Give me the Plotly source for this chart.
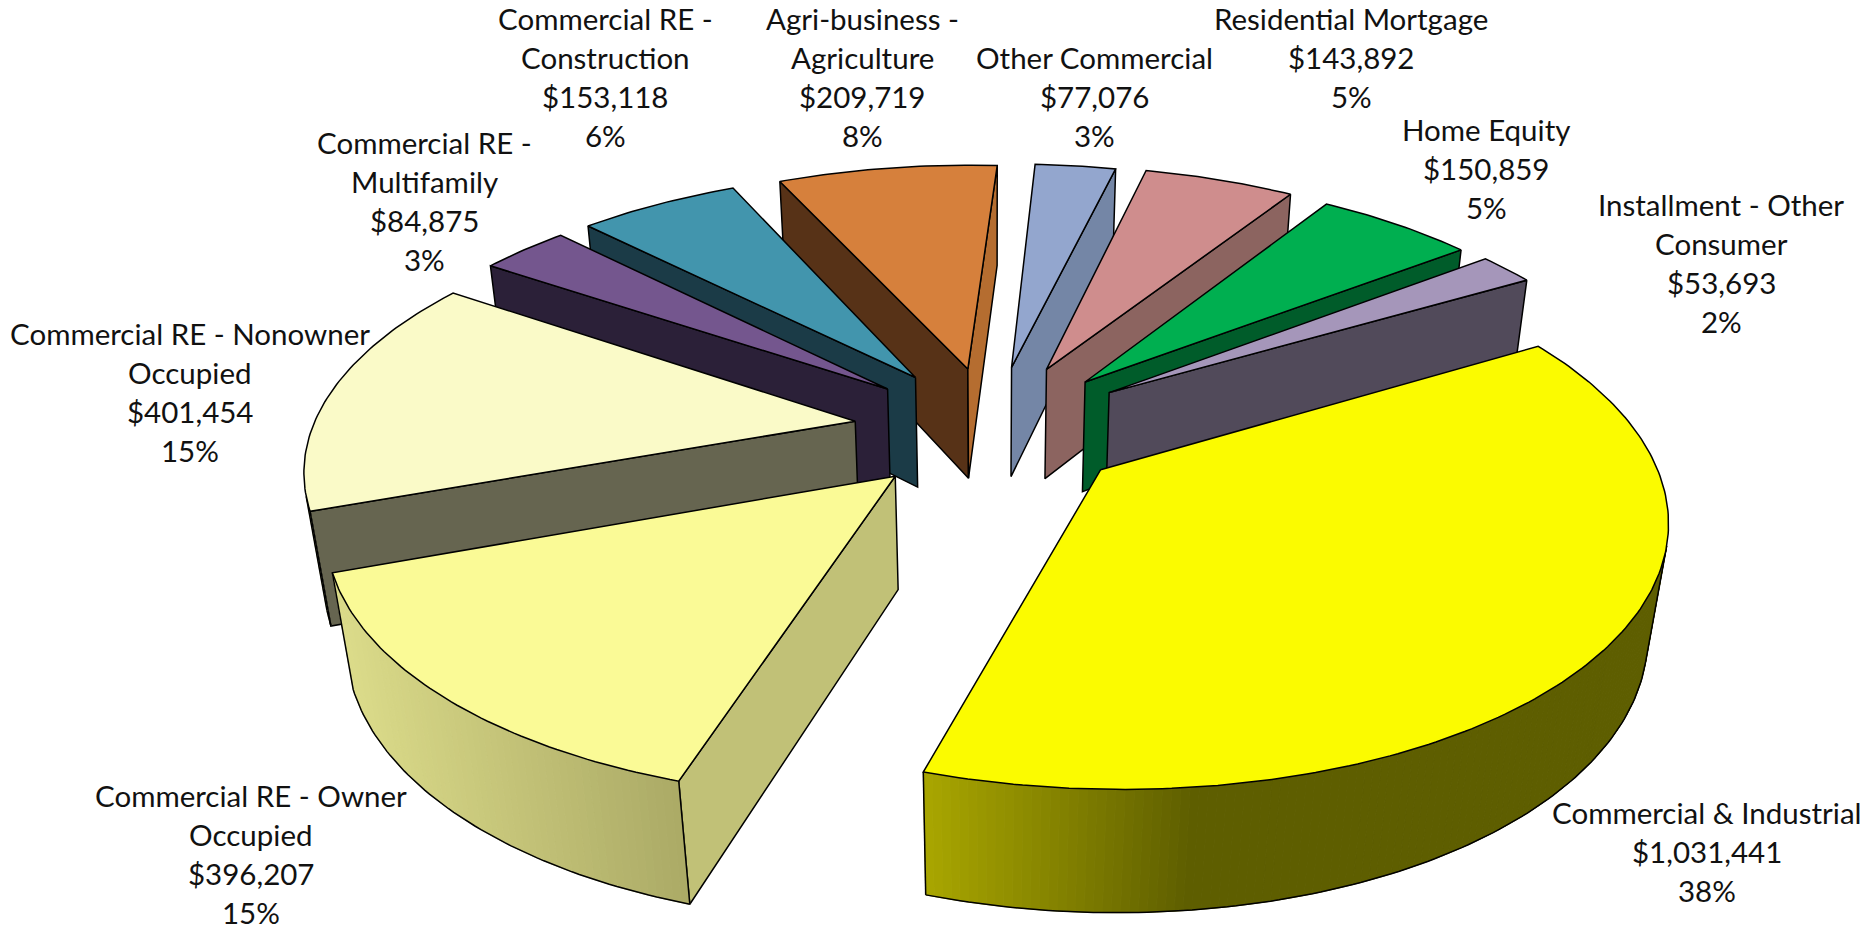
import math
import plotly.graph_objects as go

categories = ["Commercial & Industrial", "Commercial RE - Owner Occupied", "Commercial RE - Nonowner Occupied",
              "Commercial RE - Multifamily", "Commercial RE - Construction", "Agri-business - Agriculture",
              "Other Commercial", "Residential Mortgage", "Home Equity", "Installment - Other Consumer"]
values = [1031441, 396207, 401454, 84875, 153118, 209719, 77076, 143892, 150859, 53693]
percents = [38, 15, 15, 3, 6, 8, 3, 5, 5, 2]
label_lines = [["Commercial & Industrial"], ["Commercial RE - Owner", "Occupied"], ["Commercial RE - Nonowner", "Occupied"],
               ["Commercial RE -", "Multifamily"], ["Commercial RE -", "Construction"], ["Agri-business -", "Agriculture"],
               ["Other Commercial"], ["Residential Mortgage"], ["Home Equity"], ["Installment - Other", "Consumer"]]

# styles
top_colors = ["#FBFB00", "#FAFA96", "#FAFAC8", "#74568E", "#4295AD", "#D6803C", "#93A6CE", "#CF8D8D", "#00AF50", "#A596BA"]
start_face = ["#5E5E00", "#C1C177", "#666550", "#2B2038", "#1B3B47", "#573217", "#5F6B85", "#8C6460", "#005C2A", "#514A5A"]
end_face = ["#5E5E00", "#C1C177", "#D8D8A0", "#2B2038", "#1B3B47", "#B56D30", "#7486A6", "#8C6460", "#005C2A", "#514A5A"]
rim_left = ["#A9A600", "#DCDC8A", "#E8E8B4", "#5A4470", "#2F6A7C", "#B56D30", "#7486A6", "#A06E6E", "#007A38", "#7A7088"]
rim_right = ["#5E5E00", "#ABAA66", "#B8B88A", "#5A4470", "#2F6A7C", "#B56D30", "#7486A6", "#A06E6E", "#007A38", "#7A7088"]
rim_span = [(925, 1194), None, None, None, None, None, None, None, None, None]
explode = [0.25, 0.25, 0.255, 0.255, 0.255, 0.25, 0.255, 0.265, 0.26, 0.265]
label_x = [1707, 251, 190, 424, 605, 862, 1094, 1351, 1486, 1721]
label_top = [812, 795, 333, 142, 18, 18, 57, 18, 129, 204]
LINE = 39.2
FONT = "Lato, Carlito, Calibri, sans-serif"
FONT_SIZE = 29.5

START = 60.0
CX, CY, F, G, K, H, M = 992.0, 429.0, 543.0, 254.0, 0.16, 115.0, 0.03


def project(x, y, bottom=False):
    w = 1 + K * y + (M if bottom else 0)
    return CX + F * x / w, CY + (-G * y + (H if bottom else 0)) / w


def area(p):
    return sum(p[i][0] * p[(i + 1) % len(p)][1] - p[(i + 1) % len(p)][0] * p[i][1] for i in range(len(p))) / 2


def hex_mix(a, b, t):
    a = [int(a[i:i + 2], 16) for i in (1, 3, 5)]
    b = [int(b[i:i + 2], 16) for i in (1, 3, 5)]
    return "#%02x%02x%02x" % tuple(round(u + (v - u) * t) for u, v in zip(a, b))


fig = go.Figure()


def poly(pts, fill, line="#000000", width=1.5):
    xs = [p[0] for p in pts] + [pts[0][0]]
    ys = [p[1] for p in pts] + [pts[0][1]]
    fig.add_trace(go.Scatter(x=xs, y=ys, mode="lines", fill="toself", fillcolor=fill,
                             line=dict(color=line, width=width), hoverinfo="skip", showlegend=False))


def path(pts, width=1.5):
    fig.add_trace(go.Scatter(x=[p[0] for p in pts], y=[p[1] for p in pts], mode="lines",
                             line=dict(color="#000000", width=width), hoverinfo="skip", showlegend=False))


total = sum(values)
spans = []
a0 = START
for v in values:
    a1 = a0 + 360.0 * v / total
    spans.append((a0, a1))
    a0 = a1

order = sorted(range(len(values)), key=lambda i: -math.cos(math.radians(sum(spans[i]) / 2)))

for i in order:
    a0, a1 = spans[i]
    mid = math.radians((a0 + a1) / 2)
    ox, oy = explode[i] * math.sin(mid), explode[i] * math.cos(mid)
    n = max(6, int((a1 - a0) / 0.8))
    rim3 = [(ox + math.sin(math.radians(a0 + (a1 - a0) * j / n)), oy + math.cos(math.radians(a0 + (a1 - a0) * j / n)))
            for j in range(n + 1)]
    top_rim = [project(*p) for p in rim3]
    bot_rim = [project(*p, bottom=True) for p in rim3]
    ap_t, ap_b = project(ox, oy), project(ox, oy, True)

    q = [ap_t, top_rim[0], bot_rim[0], ap_b]
    if area(q) < 0:
        poly(q, start_face[i])
    q = [top_rim[-1], ap_t, ap_b, bot_rim[-1]]
    if area(q) < 0:
        poly(q, end_face[i])

    vis = [j for j in range(n) if area([top_rim[j], top_rim[j + 1], bot_rim[j + 1], bot_rim[j]]) < 0]
    if vis:
        if rim_span[i]:
            xl, xr = rim_span[i]
        else:
            xs = [top_rim[j][0] for j in vis] + [top_rim[j + 1][0] for j in vis]
            xl, xr = min(xs), max(xs)
        for j in vis:
            xm = (top_rim[j][0] + top_rim[j + 1][0]) / 2
            t = min(1, max(0, (xm - xl) / max(1, xr - xl)))
            c = hex_mix(rim_left[i], rim_right[i], t)
            poly([top_rim[j], top_rim[j + 1], bot_rim[j + 1], bot_rim[j]], c, line=c, width=1.0)
        first, last = vis[0], vis[-1] + 1
        path(bot_rim[first:last + 1])
        path([top_rim[first], bot_rim[first]])
        path([top_rim[last], bot_rim[last]])

    poly([ap_t] + top_rim, top_colors[i])

annotations = []
for i, lines in enumerate(label_lines):
    rows = lines + ["${:,}".format(values[i]), "{}%".format(percents[i])]
    for j, row in enumerate(rows):
        annotations.append(dict(x=label_x[i], y=label_top[i] + j * LINE, text=row, showarrow=False,
                                xref="x", yref="y", xanchor="center", yanchor="middle",
                                font=dict(family=FONT, size=FONT_SIZE, color="#111111")))

fig.update_layout(
    width=1872, height=930, margin=dict(l=0, r=0, t=0, b=0),
    paper_bgcolor="#ffffff", plot_bgcolor="#ffffff", showlegend=False, annotations=annotations,
    xaxis=dict(range=[0, 1872], visible=False, fixedrange=True),
    yaxis=dict(range=[930, 0], visible=False, fixedrange=True),
)
fig.write_html("out.html", config={"displayModeBar": False},
               post_script="document.body.style.margin='0';document.documentElement.style.overflow='hidden';")
